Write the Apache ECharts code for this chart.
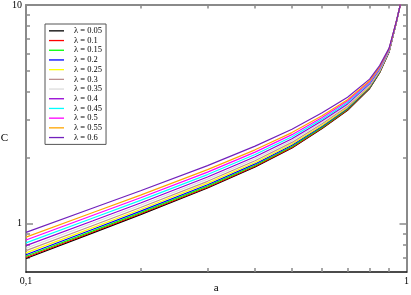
<!DOCTYPE html>
<html><head><meta charset="utf-8">
<script src="https://cdn.jsdelivr.net/npm/echarts@6/dist/echarts.min.js"></script>
<style>html,body{margin:0;padding:0;background:#fff}#c{width:411px;height:295px}</style>
</head><body><div id="c"></div>
<script>
const aValues = [0.1,0.15,0.2,0.3,0.4,0.5,0.6,0.7,0.8,0.85,0.9,0.94,0.96,0.98];
const lambdaNames = ['λ = 0.05','λ = 0.1','λ = 0.15','λ = 0.2','λ = 0.25','λ = 0.3','λ = 0.35','λ = 0.4','λ = 0.45','λ = 0.5','λ = 0.55','λ = 0.6'];
const lineColors = ['#000000','#ff0000','#00ff00','#0000ff','#ffff00','#bc8f8f','#dcdcdc','#9400d3','#00ffff','#ff00ff','#ffa500','#7221bc'];
const C_005 = [0.692,0.906,1.098,1.454,1.815,2.215,2.720,3.300,4.150,4.900,6.100,8.300,9.800,13.000];
const C_010 = [0.699,0.914,1.108,1.466,1.829,2.230,2.736,3.316,4.164,4.913,6.109,8.303,9.798,12.993];
const C_015 = [0.708,0.926,1.122,1.483,1.849,2.253,2.759,3.338,4.185,4.931,6.121,8.308,9.796,12.983];
const C_020 = [0.720,0.941,1.139,1.505,1.874,2.280,2.786,3.366,4.210,4.953,6.136,8.314,9.793,12.971];
const C_025 = [0.734,0.958,1.159,1.530,1.903,2.312,2.819,3.398,4.239,4.979,6.153,8.321,9.789,12.957];
const C_030 = [0.752,0.980,1.184,1.560,1.939,2.351,2.859,3.437,4.275,5.011,6.174,8.330,9.785,12.940];
const C_035 = [0.771,1.005,1.213,1.596,1.980,2.396,2.904,3.482,4.315,5.047,6.198,8.339,9.780,12.920];
const C_040 = [0.792,1.030,1.242,1.632,2.021,2.442,2.950,3.527,4.355,5.083,6.221,8.349,9.775,12.901];
const C_045 = [0.816,1.060,1.277,1.675,2.071,2.496,3.004,3.580,4.403,5.125,6.249,8.360,9.770,12.879];
const C_050 = [0.841,1.091,1.312,1.719,2.122,2.551,3.059,3.634,4.451,5.167,6.276,8.371,9.764,12.857];
const C_055 = [0.867,1.123,1.349,1.764,2.174,2.607,3.116,3.689,4.499,5.209,6.304,8.382,9.759,12.835];
const C_060 = [0.911,1.177,1.412,1.840,2.261,2.702,3.210,3.780,4.580,5.280,6.350,8.400,9.750,12.800];
const allC = [C_005,C_010,C_015,C_020,C_025,C_030,C_035,C_040,C_045,C_050,C_055,C_060];
const xMinorTicks = [0.2,0.3,0.4,0.5,0.6,0.7,0.8,0.9];
const xTickLabels = [0.1, 1];
const yMinorTicks = [0.7,0.8,0.9,2,3,4,5,6,7,8,9];
const yMajorTicks = [1];
const yTickLabels = [1, 10];

const FONT = 'Liberation Serif';
const chart = echarts.init(document.getElementById('c'), null, {renderer:'canvas'});

function yAx(pos, ticks, len, showLine, labels, name){
  return {
    type:'log', logBase:10, min:0.6, max:10, position:pos,
    name: name || '', nameLocation:'middle', nameGap:18, nameRotate:0, nameMoveOverlap:false,
    nameTextStyle:{fontFamily:FONT, fontSize:11, color:'#000'},
    axisLine:{show:showLine, onZero:false, lineStyle:{color:'#8a8a8a', width:2}},
    axisTick:{show:true, inside:true, length:len, customValues:ticks, lineStyle:{color:'#8a8a8a', width:1.5}},
    axisLabel:labels ? {show:true, customValues:labels, margin:4, fontFamily:FONT, fontSize:10, color:'#000',
      formatter:(v)=> String(Math.round(v))} : {show:false},
    splitLine:{show:false}, minorTick:{show:false}
  };
}
function xAx(pos, ticks, len, lineColor, lineWidth, labels, name){
  return {
    type:'log', logBase:10, min:0.1, max:1, position:pos,
    name: name || '', nameLocation:'middle', nameGap:11, nameMoveOverlap:false,
    nameTextStyle:{fontFamily:FONT, fontSize:11, color:'#000'},
    axisLine:{show:true, onZero:false, lineStyle:{color:lineColor, width:lineWidth}},
    axisTick:{show:true, inside:true, length:len, customValues:ticks, lineStyle:{color:'#8a8a8a', width:1.5}},
    axisLabel:labels ? {show:true, customValues:labels, margin:4, fontFamily:FONT, fontSize:10, color:'#000',
      formatter:(v)=> v < 0.5 ? '0,1' : '1'} : {show:false},
    splitLine:{show:false}, minorTick:{show:false}
  };
}

const series = allC.map((arr, k) => ({
  name: lambdaNames[k], type:'line', xAxisIndex:0, yAxisIndex:0,
  data: aValues.map((a, i) => [a, arr[i]]),
  symbol:'none', smooth:false, clip:true,
  lineStyle:{color:lineColors[k], width:1.2}, itemStyle:{color:lineColors[k]}
}));

chart.setOption({
  animation:false,
  backgroundColor:'#fff',
  grid:{left:26, right:4.5, top:5, bottom:23, containLabel:false, outerBoundsMode:'none'},
  xAxis:[
    xAx('bottom', xMinorTicks, 4, '#111', 1.5, xTickLabels, 'a'),
    xAx('top', xMinorTicks, 3.5, '#8a8a8a', 2, null, '')
  ],
  yAxis:[
    yAx('left', yMinorTicks, 4, true, yTickLabels, 'C'),
    yAx('left', yMajorTicks, 7, false, null, ''),
    yAx('right', yMinorTicks, 3.5, true, null, ''),
    yAx('right', yMajorTicks, 7, false, null, '')
  ],
  legend:{
    orient:'vertical', left:45, top:24, padding:[2,4,2,4],
    icon:'rect', itemWidth:15, itemHeight:1.3, itemGap:0,
    borderColor:'#555', borderWidth:1, backgroundColor:'#fff',
    textStyle:{fontFamily:FONT, fontSize:8.5, lineHeight:9.7, color:'#000', padding:[0,0,0,5]},
    data: lambdaNames
  },
  series: series
});
</script></body></html>
